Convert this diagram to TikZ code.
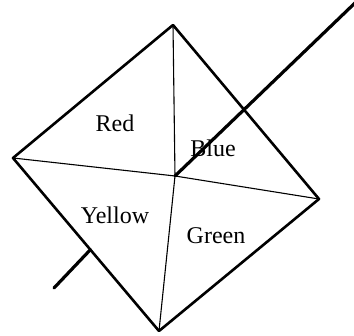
\documentclass[tikz,border=0pt]{standalone}
\usepackage{fontspec}
\setmainfont{Liberation Serif}
\usetikzlibrary{calc}
\tikzset{
  every picture/.style={x=1pt, y=-1pt, line cap=round, line join=round},
  edge/.style={draw=black, line width=2.6pt},
  diag/.style={draw=black, line width=1.1pt},
  beam/.style={draw=black, line width=3.2pt},
  face/.style={font=\fontsize{24}{28}\selectfont, inner sep=0pt},
}

\begin{document}
\begin{tikzpicture}
  \useasboundingbox (0,0) rectangle (354,336);
  \coordinate (T) at (173,25);
  \coordinate (L) at (13,158);
  \coordinate (R) at (319,199);
  \coordinate (B) at (159,331);
  \coordinate (O) at (175,176);
  \coordinate (hit) at ($(L)!0.53!(B)$);
  \coordinate (tail) at (54,288);
  \coordinate (head) at (356,2);
  \draw[diag] (T) -- (O) -- (B);
  \draw[diag] (L) -- (O) -- (R);
  \draw[edge] (T) -- (R) -- (B) -- (L) -- cycle;
  \draw[beam] (O) -- (head);
  \draw[beam] (hit) -- (tail);
  \foreach \n/\xy/\txt in {red/{115,123}/Red, blue/{213,148}/Blue, yellow/{115,215}/Yellow, green/{216,236}/Green}
    \node[face] (\n) at (\xy) {\txt};
\end{tikzpicture}
\end{document}
